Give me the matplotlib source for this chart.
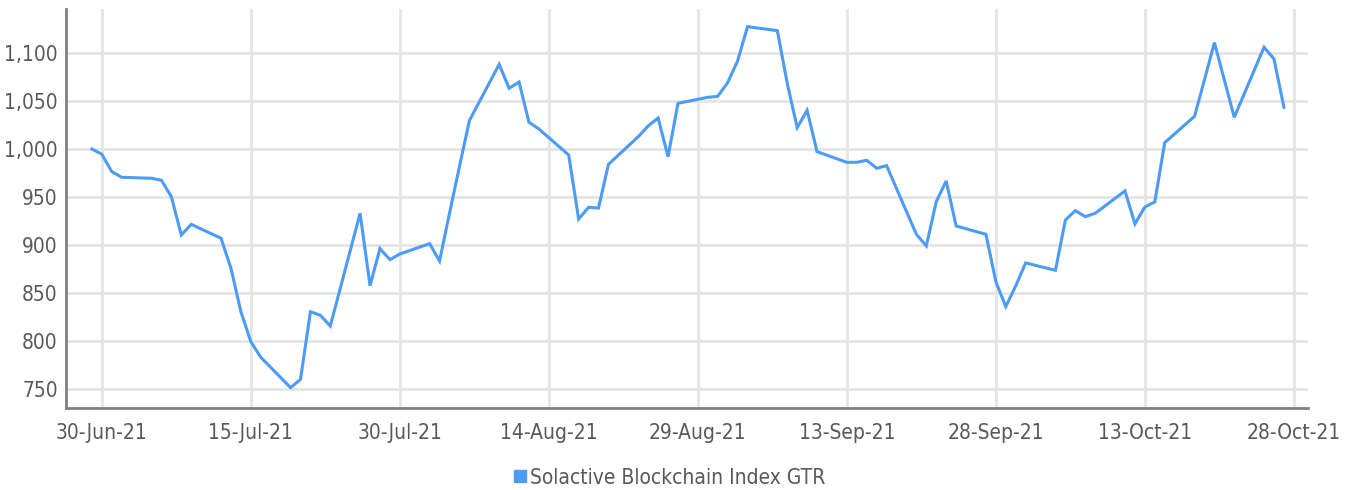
import matplotlib
matplotlib.use('Agg')
import matplotlib.pyplot as plt
import matplotlib.dates as mdates
from matplotlib.lines import Line2D
from matplotlib.ticker import FuncFormatter
import pandas as pd

plt.rcParams['font.family'] = ['DejaVu Sans']
plt.rcParams['font.stretch'] = 'condensed'

dates = ['2021-06-29', '2021-06-30', '2021-07-01', '2021-07-02', '2021-07-05',
         '2021-07-06', '2021-07-07', '2021-07-08', '2021-07-09', '2021-07-12',
         '2021-07-13', '2021-07-14', '2021-07-15', '2021-07-16', '2021-07-19',
         '2021-07-20', '2021-07-21', '2021-07-22', '2021-07-23', '2021-07-26',
         '2021-07-27', '2021-07-28', '2021-07-29', '2021-07-30', '2021-08-02',
         '2021-08-03', '2021-08-04', '2021-08-05', '2021-08-06', '2021-08-09',
         '2021-08-10', '2021-08-11', '2021-08-12', '2021-08-13', '2021-08-16',
         '2021-08-17', '2021-08-18', '2021-08-19', '2021-08-20', '2021-08-23',
         '2021-08-24', '2021-08-25', '2021-08-26', '2021-08-27', '2021-08-30',
         '2021-08-31', '2021-09-01', '2021-09-02', '2021-09-03', '2021-09-06',
         '2021-09-07', '2021-09-08', '2021-09-09', '2021-09-10', '2021-09-13',
         '2021-09-14', '2021-09-15', '2021-09-16', '2021-09-17', '2021-09-20',
         '2021-09-21', '2021-09-22', '2021-09-23', '2021-09-24', '2021-09-27',
         '2021-09-28', '2021-09-29', '2021-09-30', '2021-10-01', '2021-10-04',
         '2021-10-05', '2021-10-06', '2021-10-07', '2021-10-08', '2021-10-11',
         '2021-10-12', '2021-10-13', '2021-10-14', '2021-10-15', '2021-10-18',
         '2021-10-19', '2021-10-20', '2021-10-21', '2021-10-22', '2021-10-25',
         '2021-10-26', '2021-10-27']

index_gtr = [1000, 994.5, 976.4, 970.5, 969.5,
             967.4, 950.3, 910.4, 921.5, 907,
             875.7, 830.5, 799.3, 783, 751.4,
             760, 830.5, 826.8, 815.6, 933,
             857.6, 896.2, 884.7, 890.6, 901.4,
             883.3, 933, 981.6, 1029.5, 1088.2,
             1063.2, 1069.8, 1027.8, 1020.8, 993.75,
             927, 939.2, 938.5, 984, 1012.8,
             1024, 1032.3, 992, 1047.6, 1053.8,
             1054.8, 1069.1, 1091.7, 1127.4, 1123.3,
             1068.4, 1022.2, 1040.3, 997.2, 986.1,
             986.1, 988.2, 979.9, 982.6, 911.1,
             899, 945.1, 966.7, 919.8, 911.1,
             861.8, 835.8, 857.3, 881.3, 873.6,
             926, 935.8, 929.5, 933, 956.25,
             921.9, 939.6, 944.8, 1006.6, 1034,
             1072, 1110.8, 1072, 1033, 1106,
             1093.75, 1043.4]

tick_dates = ['2021-06-30', '2021-07-15', '2021-07-30', '2021-08-14', '2021-08-29',
              '2021-09-13', '2021-09-28', '2021-10-13', '2021-10-28']
yticks = [750, 800, 850, 900, 950, 1000, 1050, 1100]

series_name = 'Solactive Blockchain Index GTR'
line_color = '#4C9BF6'
text_color = '#595959'

x = pd.to_datetime(dates)
xt = pd.to_datetime(tick_dates)

fig = plt.figure(figsize=(13.51, 4.90), dpi=100)
ax = fig.add_axes([0.0489, 0.167, 0.9191, 0.815])

ax.plot(x, index_gtr, color=line_color, lw=2.2, solid_joinstyle='miter')

ax.set_xlim(xt[0] - pd.Timedelta(days=3.6), xt[-1] + pd.Timedelta(days=1.4))
ax.set_ylim(730, 1146)
ax.set_xticks(xt)
ax.set_yticks(yticks)
ax.xaxis.set_major_formatter(mdates.DateFormatter('%d-%b-%y'))
ax.yaxis.set_major_formatter(FuncFormatter(lambda v, p: f'{int(v):,}'))

ax.grid(True, color='#e5e5e5', lw=2)
ax.set_axisbelow(True)
for s in ['top', 'right']:
    ax.spines[s].set_visible(False)
for s in ['left', 'bottom']:
    ax.spines[s].set_color('#808080')
    ax.spines[s].set_linewidth(2)

ax.tick_params(axis='both', length=0, labelsize=15, colors=text_color)
ax.tick_params(axis='x', pad=11)
ax.tick_params(axis='y', pad=6)

handle = Line2D([], [], color=line_color, marker='s', ls='none', markersize=8)
fig.legend([handle], [series_name], loc='center', bbox_to_anchor=(0.494, 0.025),
           frameon=False, fontsize=15, labelcolor=text_color,
           handletextpad=0.0, handlelength=1.0)

fig.savefig('out.png', dpi=100)
